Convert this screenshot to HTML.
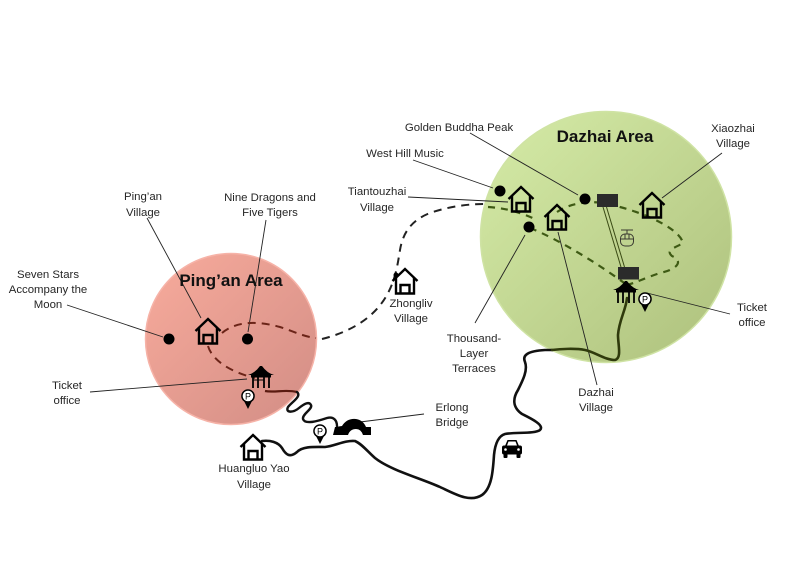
<!DOCTYPE html>
<html><head><meta charset="utf-8">
<style>
html,body{margin:0;padding:0;background:#fff;}
svg{display:block;}
text{font-family:"Liberation Sans",sans-serif;fill:#262626;}
</style></head>
<body>
<svg width="796" height="574" viewBox="0 0 796 574" xmlns="http://www.w3.org/2000/svg">
<defs>
<linearGradient id="gp" x1="0" y1="0" x2="1" y2="1">
<stop offset="0" stop-color="#f8ab9c"/><stop offset="1" stop-color="#d28d85"/>
</linearGradient>
<linearGradient id="gd" x1="0" y1="0" x2="1" y2="1">
<stop offset="0" stop-color="#d6eca8"/><stop offset="1" stop-color="#adc07c"/>
</linearGradient>
</defs>
<rect width="796" height="574" fill="#fff"/>

<!-- circles -->
<circle cx="231" cy="339" r="85.5" fill="url(#gp)" stroke="#f6b3a8" stroke-width="1.5"/>
<circle cx="606" cy="237" r="125.5" fill="url(#gd)" stroke="#cfe3a4" stroke-width="1.5"/>

<!-- leader lines -->
<g stroke="#222" stroke-width="0.9" fill="none">
<line x1="67" y1="305" x2="163" y2="337"/>
<line x1="147" y1="218" x2="201" y2="318"/>
<line x1="266" y1="220" x2="248" y2="332"/>
<line x1="90" y1="392" x2="247" y2="379"/>
<line x1="413" y1="160" x2="493" y2="188"/>
<line x1="470" y1="133" x2="578" y2="195"/>
<line x1="408" y1="197" x2="508" y2="202"/>
<line x1="722" y1="153" x2="662" y2="198"/>
<line x1="475" y1="323" x2="525" y2="235"/>
<line x1="558" y1="232" x2="597" y2="385"/>
<line x1="647" y1="293" x2="730" y2="314"/>
<line x1="360" y1="422" x2="424" y2="414"/>
</g>

<!-- dashed paths -->
<path d="M222,333 C235,322 255,320 280,327 C295,332 305,337 316,338" fill="none" stroke="#6b2418" stroke-width="2" stroke-dasharray="8 6"/>
<path d="M208,346 C212,360 230,372 255,378" fill="none" stroke="#6b2418" stroke-width="2" stroke-dasharray="8 6"/>
<path d="M322,339 C350,332 375,318 388,293 C396,278 398,262 400,250 C403,232 412,220 430,213 C450,206 470,204 484,204" fill="none" stroke="#222" stroke-width="2" stroke-dasharray="8 6"/>
<g fill="none" stroke="#3e5a14" stroke-width="2.2" stroke-dasharray="7 6">
<path d="M488,207 C505,208 520,212 537,220"/>
<path d="M530,228 C560,240 600,265 627,285"/>
<path d="M557,212 C575,200 600,200 620,207 C650,215 680,230 683,243 C675,248 665,250 672,256 C685,262 675,270 660,273 C645,278 635,283 627,285"/>
</g>

<!-- roads -->
<path d="M265,391 C275,393 285,389 297,392" fill="none" stroke="#5a1a10" stroke-width="2.2"/>
<path d="M297,392 C302,396 292,402 288,407 C285,413 293,413 299,408 C304,404 309,401 311,405 C313,409 302,414 303,419 C305,425 318,421 327,418 C334,416 337,421 337,426" fill="none" stroke="#111" stroke-width="2.4" stroke-linecap="round"/>
<path d="M262,441 C270,440 278,442 282,448 C286,455 290,458 297,452 C303,446 315,447 325,447 C335,446 345,440 355,441 C362,444 368,452 375,458 C390,470 420,478 440,487 C455,494 470,503 482,495 C492,488 493,470 494,455 C495,445 498,436 505,434 C515,432 535,434 540,430 C545,425 530,418 522,414 C512,407 513,398 518,390 C523,380 528,370 525,362 C522,355 528,351 545,350 L552,350" fill="none" stroke="#111" stroke-width="2.6" stroke-linecap="round"/>
<path d="M552,350 C560,349 575,348 585,350 C595,352 605,360 615,360 C622,358 618,345 618,335 C619,320 626,310 627,298" fill="none" stroke="#2f3a0c" stroke-width="2.6" stroke-linecap="round"/>

<!-- cable car -->
<line x1="603" y1="207" x2="621" y2="267" stroke="#3a4a14" stroke-width="1"/>
<line x1="606.5" y1="207" x2="624.5" y2="267" stroke="#3a4a14" stroke-width="1"/>
<rect x="597" y="194" width="21" height="13" fill="#2b2b2b"/>
<rect x="618" y="267" width="21" height="12.5" fill="#2b2b2b"/>
<g stroke="#3a3a30" stroke-width="1" fill="none">
<line x1="621" y1="230" x2="633" y2="230"/>
<line x1="627" y1="230" x2="627" y2="234"/>
<rect x="620.5" y="234" width="13" height="12" rx="4.5"/>
<line x1="620.5" y1="239" x2="633.5" y2="239"/>
<line x1="625" y1="234" x2="625" y2="239"/>
<line x1="629" y1="234" x2="629" y2="239"/>
</g>

<!-- dots -->
<g fill="#000">
<circle cx="169" cy="339" r="5.5"/>
<circle cx="247.5" cy="339" r="5.5"/>
<circle cx="500" cy="191" r="5.5"/>
<circle cx="585" cy="199" r="5.5"/>
<circle cx="529" cy="227" r="5.5"/>
<circle cx="396" cy="275" r="2.5"/>
</g>

<!-- houses -->
<g fill="none" stroke="#000" stroke-width="2.4" stroke-linejoin="miter">
<g transform="translate(208,331)"><path d="M-12.5,0 L0,-12 L12.5,0"/><path d="M-9,-3 V12.5 H9 V-3"/><path d="M-4.5,12.5 V4 H4.5 V12.5"/></g>
<g transform="translate(405,281)"><path d="M-12.5,0 L0,-12 L12.5,0"/><path d="M-9,-3 V12.5 H9 V-3"/><path d="M-4.5,12.5 V4 H4.5 V12.5"/></g>
<g transform="translate(521,199)"><path d="M-12.5,0 L0,-12 L12.5,0"/><path d="M-9,-3 V12.5 H9 V-3"/><path d="M-4.5,12.5 V4 H4.5 V12.5"/></g>
<g transform="translate(557,217)"><path d="M-12.5,0 L0,-12 L12.5,0"/><path d="M-9,-3 V12.5 H9 V-3"/><path d="M-4.5,12.5 V4 H4.5 V12.5"/></g>
<g transform="translate(652,205)"><path d="M-12.5,0 L0,-12 L12.5,0"/><path d="M-9,-3 V12.5 H9 V-3"/><path d="M-4.5,12.5 V4 H4.5 V12.5"/></g>
<g transform="translate(253,447)"><path d="M-12.5,0 L0,-12 L12.5,0"/><path d="M-9,-3 V12.5 H9 V-3"/><path d="M-4.5,12.5 V4 H4.5 V12.5"/></g>
</g>

<!-- gates -->
<g transform="translate(261,377)">
<path d="M-13,-2 Q-6,-4 -1,-11 L1,-11 Q6,-4 13,-2 Z" fill="#000"/>
<rect x="-10" y="-2" width="20" height="2.5" fill="#000"/>
<g stroke="#000" stroke-width="1.8"><line x1="-8" y1="0" x2="-8" y2="11"/><line x1="-3" y1="0" x2="-3" y2="11"/><line x1="3" y1="0" x2="3" y2="11"/><line x1="8" y1="0" x2="8" y2="11"/></g>
<line x1="-8" y1="3" x2="3" y2="3" stroke="#000" stroke-width="1"/>
</g>
<g transform="translate(626,292)">
<path d="M-13,-2 Q-6,-4 -1,-11 L1,-11 Q6,-4 13,-2 Z" fill="#000"/>
<rect x="-10" y="-2" width="20" height="2.5" fill="#000"/>
<g stroke="#000" stroke-width="1.8"><line x1="-8" y1="0" x2="-8" y2="11"/><line x1="-3" y1="0" x2="-3" y2="11"/><line x1="3" y1="0" x2="3" y2="11"/><line x1="8" y1="0" x2="8" y2="11"/></g>
</g>

<!-- parking pins -->
<g transform="translate(248,396)"><path d="M-4.5,4 L0,13 L4.5,4 Z" fill="#000"/><circle r="6.8" fill="#000"/><circle r="5.3" fill="#fff"/><text x="0" y="3.3" font-size="9" text-anchor="middle" style="fill:#000">P</text></g>
<g transform="translate(320,431)"><path d="M-4.5,4 L0,13 L4.5,4 Z" fill="#000"/><circle r="6.8" fill="#000"/><circle r="5.3" fill="#fff"/><text x="0" y="3.3" font-size="9" text-anchor="middle" style="fill:#000">P</text></g>
<g transform="translate(645,299)"><path d="M-4.5,4 L0,13 L4.5,4 Z" fill="#000"/><circle r="6.8" fill="#000"/><circle r="5.3" fill="#fff"/><text x="0" y="3.3" font-size="9" text-anchor="middle" style="fill:#000">P</text></g>

<!-- bridge -->
<path d="M333,435 L335,427 L342,426 Q347,418 356,419 Q363,420 366,427 L371,427 L371,435 L363,435 Q361,429 356,429 Q350,429 348,435 Z" fill="#000"/>

<!-- car -->
<g fill="#000">
<path d="M505,446 L507.5,440 H516.5 L519,446 Z"/>
<rect x="502" y="445.5" width="20" height="9" rx="2"/>
<rect x="503.5" y="453" width="4" height="5" rx="1"/>
<rect x="516.5" y="453" width="4" height="5" rx="1"/>
</g>
<path d="M507,445.5 L508.5,441.5 H515.5 L517,445.5 Z" fill="#fff"/>
<circle cx="505.5" cy="449.5" r="1.3" fill="#fff"/>
<circle cx="518.5" cy="449.5" r="1.3" fill="#fff"/>

<!-- titles -->
<text x="605" y="142" font-size="17" font-weight="bold" text-anchor="middle" style="fill:#111">Dazhai Area</text>
<text x="231" y="286" font-size="17" font-weight="bold" text-anchor="middle" style="fill:#111">Ping’an Area</text>

<!-- labels -->
<g font-size="11.4" text-anchor="middle">
<text x="459" y="131">Golden Buddha Peak</text>
<text x="405" y="157">West Hill Music</text>
<text x="377" y="195">Tiantouzhai</text>
<text x="377" y="211">Village</text>
<text x="733" y="132">Xiaozhai</text>
<text x="733" y="147">Village</text>
<text x="143" y="200">Ping’an</text>
<text x="143" y="216">Village</text>
<text x="270" y="201">Nine Dragons and</text>
<text x="270" y="216">Five Tigers</text>
<text x="48" y="278">Seven Stars</text>
<text x="48" y="293">Accompany the</text>
<text x="48" y="308">Moon</text>
<text x="411" y="307">Zhongliv</text>
<text x="411" y="322">Village</text>
<text x="474" y="342">Thousand-</text>
<text x="474" y="357">Layer</text>
<text x="474" y="372">Terraces</text>
<text x="67" y="389">Ticket</text>
<text x="67" y="404">office</text>
<text x="752" y="311">Ticket</text>
<text x="752" y="326">office</text>
<text x="596" y="396">Dazhai</text>
<text x="596" y="411">Village</text>
<text x="452" y="411">Erlong</text>
<text x="452" y="426">Bridge</text>
<text x="254" y="472">Huangluo Yao</text>
<text x="254" y="488">Village</text>
</g>
</svg>
</body></html>
